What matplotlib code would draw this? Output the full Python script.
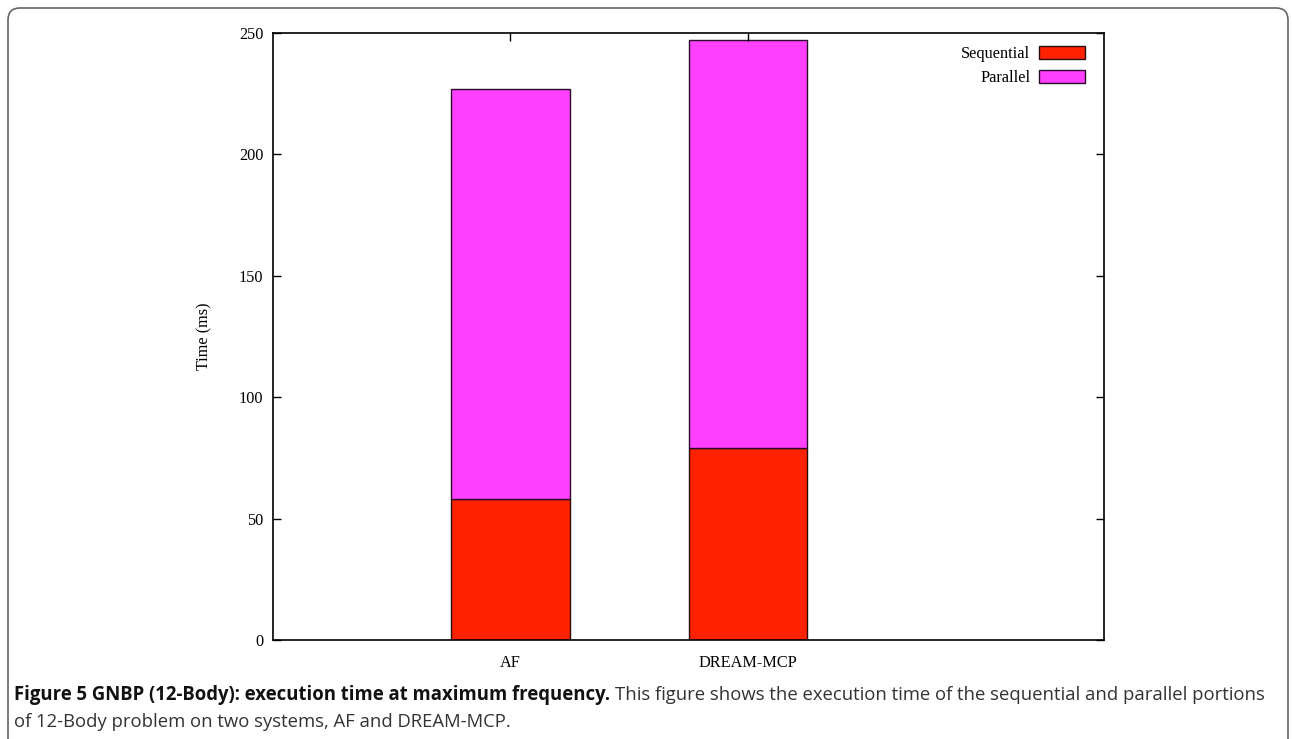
import matplotlib.pyplot as plt
from matplotlib.patches import FancyBboxPatch

# execution time (ms) per system, split into sequential and parallel parts
systems = ['AF', 'DREAM-MCP']
sequential = [58, 79]
parallel = [169, 168]
yticks = [0, 50, 100, 150, 200, 250]

seq_color = '#ff2200'
par_color = '#ff40ff'
serif = 'Liberation Serif'
fs = 11.7

fig = plt.figure(figsize=(12.92, 7.39), dpi=100)
ax = fig.add_axes([0.2113, 0.1340, 0.6432, 0.8214])

x = list(range(len(systems)))
ax.bar(x, sequential, width=0.5, color=seq_color, edgecolor='#2a0a0a',
       linewidth=1.0, label='Sequential')
ax.bar(x, parallel, width=0.5, bottom=sequential, color=par_color,
       edgecolor='#2a0a2a', linewidth=1.0, label='Parallel')

ax.set_xlim(-1, 2.5)
ax.set_ylim(0, 250)
ax.set_xticks(x)
ax.set_xticklabels(systems, fontfamily=serif, fontsize=fs)
ax.set_yticks(yticks)
ax.set_yticklabels([str(v) for v in yticks], fontfamily=serif, fontsize=fs)
ax.tick_params(axis='y', direction='in', length=6, width=1, right=True, pad=7)
ax.tick_params(axis='x', direction='in', length=6, width=1, top=True,
               bottom=False, pad=11)
for s in ax.spines.values():
    s.set_linewidth(1.2)

ax.set_ylabel('Time (ms)', fontfamily=serif, fontsize=fs)
ax.yaxis.set_label_coords(-0.073, 0.5)

leg = ax.legend(loc='upper right', bbox_to_anchor=(0.9925, 1.0), frameon=False,
                markerfirst=False, prop={'family': serif, 'size': fs},
                handlelength=2.8, handleheight=0.8, labelspacing=0.5,
                handletextpad=0.55, borderaxespad=0.5, borderpad=0.3)

# caption: bold title followed by normal text
cap_font = 'Open Sans'
cap_fs = 13.35
fig.canvas.draw()
r = fig.canvas.get_renderer()
t1 = fig.text(14 / 1292, 1 - 700 / 739, 'Figure 5 GNBP (12-Body): execution time at maximum frequency.',
              fontfamily=cap_font, fontweight='bold', fontsize=cap_fs, color='#111111')
bb = t1.get_window_extent(r)
fig.text((bb.x1 + 5) / 1292, 1 - 700 / 739,
         'This figure shows the execution time of the sequential and parallel portions',
         fontfamily=cap_font, fontsize=cap_fs, color='#333333')
fig.text(14 / 1292, 1 - 727 / 739,
         'of 12-Body problem on two systems, AF and DREAM-MCP.',
         fontfamily=cap_font, fontsize=cap_fs, color='#333333')

# rounded outer frame, open at the bottom
frame = FancyBboxPatch((0.08, -0.5), 12.8, 7.81, boxstyle='round,pad=0,rounding_size=0.12',
                       transform=fig.dpi_scale_trans, facecolor='none',
                       edgecolor='#666666', linewidth=1.2)
fig.patches.append(frame)

fig.savefig('out.png', dpi=100)
